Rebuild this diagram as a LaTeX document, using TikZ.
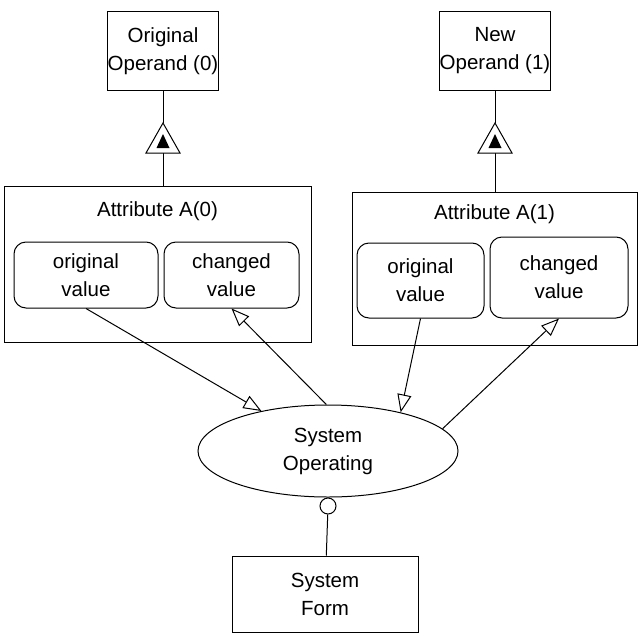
\documentclass[tikz,border=0pt]{standalone}
\usepackage{fontspec}
\setmainfont{Liberation Sans}
\usetikzlibrary{shapes.geometric,arrows.meta}
\tikzset{
  every node/.style={font=\fontsize{20.5}{28}\selectfont, align=center, inner sep=0pt},
  ln/.style={draw=black, line width=1pt},
  box/.style={ln, rectangle},
  rbox/.style={ln, rectangle, rounded corners=12pt},
  oarr/.style={ln, -{Triangle[open, length=18pt, width=14pt, fill=white]}},
}
\begin{document}
\begin{tikzpicture}[x=1pt, y=-1pt]
\useasboundingbox (0,0) rectangle (639,634);
% top boxes
\node[box, minimum width=108pt, minimum height=78pt] (oo) at (163,51) {Original\\Operand (0)};
\node[box, minimum width=106pt, minimum height=78pt] (no) at (495,51) {New\\Operand (1)};
% attribute boxes
\node[box, minimum width=307pt, minimum height=156pt] (a0) at (157.5,264) {};
\node (t0) at (157.5,211) {Attribute A(0)};
\node[box, minimum width=285pt, minimum height=153pt] (a1) at (494.5,268.5) {};
\node (t1) at (494.5,214) {Attribute A(1)};
% values
\node[rbox, minimum width=144pt, minimum height=66pt] (ov0) at (86,275) {original\\value};
\node[rbox, minimum width=135pt, minimum height=66pt] (cv0) at (231.5,275) {changed\\value};
\node[rbox, minimum width=127pt, minimum height=75pt] (ov1) at (420.5,280.5) {original\\value};
\node[rbox, minimum width=138pt, minimum height=81pt] (cv1) at (559,277.5) {changed\\value};
% ellipse
\node[ln, ellipse, minimum width=260pt, minimum height=92pt] (so) at (328,451) {System\\Operating};
% system form
\node[box, minimum width=186pt, minimum height=76pt] (sf) at (325,594) {System\\Form};
% generalization triangles
\coordinate (g0) at (163,123);
\coordinate (gb0) at (163,153);
\coordinate (g1) at (495,123);
\coordinate (gb1) at (495,153);
\draw[ln] (oo) -- (g0);
\draw[ln] (gb0) -- (a0.north -| gb0);
\draw[ln, fill=white] (g0) -- ++(-17,30) -- ++(34,0) -- cycle;
\fill (g0) ++(0,11) -- ++(-6.5,14) -- ++(13,0) -- cycle;
\draw[ln] (no) -- (g1);
\draw[ln] (gb1) -- (a1.north -| gb1);
\draw[ln, fill=white] (g1) -- ++(-17,30) -- ++(34,0) -- cycle;
\fill (g1) ++(0,11) -- ++(-6.5,14) -- ++(13,0) -- cycle;
% arrows
\draw[oarr] (ov0.south) -- (so.149);
\draw[oarr] (so.92) -- (cv0.south);
\draw[oarr] (ov1.south) -- (so.28);
\draw[oarr] (so.11) -- (cv1.south);
% circle connector
\node[ln, circle, minimum size=16pt, fill=white] (ci) at (so.south) [anchor=north] {};
\draw[ln] (ci) -- (sf);
\end{tikzpicture}
\end{document}
